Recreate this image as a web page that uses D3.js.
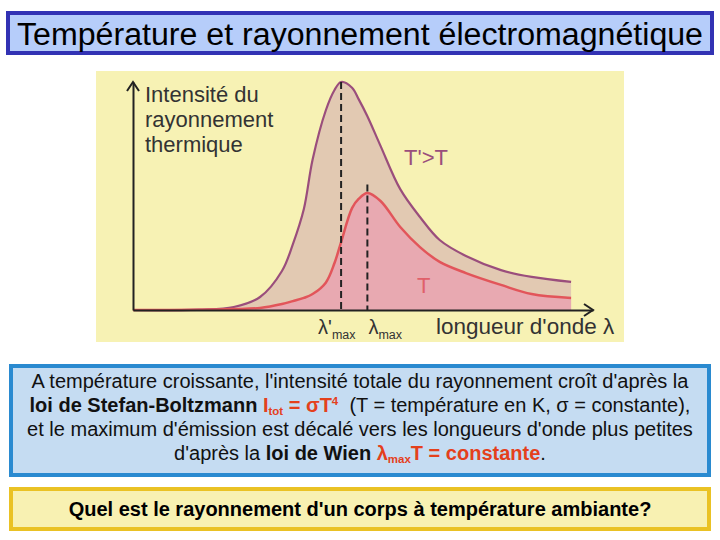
<!DOCTYPE html>
<html>
<head>
<meta charset="utf-8">
<script src="https://cdn.jsdelivr.net/npm/d3@7"></script>
<style>
  body { margin: 0; background: #fff; }
  svg { display: block; font-family: "Liberation Sans", Arial, sans-serif; }
</style>
</head>
<body>
<div id="chart"></div>
<script>
// wavelength samples (arbitrary units) and the two emission curves
const lambda = [0, 1.5, 2.3, 2.9, 3.4, 3.65, 3.9, 4.1, 4.4, 4.6, 4.75, 5.0, 5.15, 5.35, 5.65, 6.1, 6.55, 7.0, 7.6, 8.4, 9.1, 10]
const hotIntensity = [0, 0.02, 0.13, 0.57, 1.71, 2.89, 4.43, 6.6, 8.75, 9.65, 10, 9.75, 9.25, 8.5, 7.2, 5.3, 4.08, 3.07, 2.37, 1.75, 1.45, 1.23]
const coldIntensity = [0, 0.01, 0.04, 0.09, 0.26, 0.39, 0.53, 0.70, 1.2, 2.06, 2.98, 4.47, 4.87, 5.13, 4.78, 3.64, 2.76, 2.11, 1.62, 1.10, 0.70, 0.53]

const peakLambda = [4.75, 5.35]
const peakTop = [10, 5.5]
const peakLabels = ["λ'", "λ"]
const seriesLabels = ["T'>T", "T"]

const title = "Température et rayonnement électromagnétique"
const yTitle = ["Intensité du", "rayonnement", "thermique"]
const xTitle = "longueur d'onde λ"
const question = "Quel est le rayonnement d'un corps à température ambiante?"

const W = 720, H = 540
const RED = "#e4401c"

const svg = d3.select("#chart").append("svg")
    .attr("width", W)
    .attr("height", H)

// title box
svg.append("rect")
    .attr("x", 8).attr("y", 13).attr("width", 704).attr("height", 40)
    .attr("fill", "#b6cdfa").attr("stroke", "#3232b4").attr("stroke-width", 4)
svg.append("text")
    .attr("x", 360).attr("y", 45)
    .attr("text-anchor", "middle")
    .attr("font-size", 31)
    .attr("textLength", 686).attr("lengthAdjust", "spacingAndGlyphs")
    .attr("fill", "#000")
    .text(title)

// chart panel
svg.append("rect")
    .attr("x", 96).attr("y", 71).attr("width", 528).attr("height", 271)
    .attr("fill", "#f7f2b4")

const x = d3.scaleLinear().domain([0, 10.5]).range([133, 593])
const y = d3.scaleLinear().domain([0, 10]).range([310, 82])

const rows = lambda.map((l, i) => ({ l, hot: hotIntensity[i], cold: coldIntensity[i] }))

const curve = d3.curveCatmullRom.alpha(0.5)
const hotArea = d3.area().curve(curve)
    .x(d => x(d.l)).y0(y(0)).y1(d => y(d.hot))
const coldArea = d3.area().curve(curve)
    .x(d => x(d.l)).y0(y(0)).y1(d => y(d.cold))
const hotLine = d3.line().curve(curve)
    .x(d => x(d.l)).y(d => y(d.hot))
const coldLine = d3.line().curve(curve)
    .x(d => x(d.l)).y(d => y(d.cold))

svg.append("path").datum(rows).attr("d", hotArea).attr("fill", "#e2c9b2")
svg.append("path").datum(rows).attr("d", coldArea).attr("fill", "#e8a9b1")
svg.append("path").datum(rows).attr("d", hotLine)
    .attr("fill", "none").attr("stroke", "#9a4e7c").attr("stroke-width", 2.2)
svg.append("path").datum(rows).attr("d", coldLine)
    .attr("fill", "none").attr("stroke", "#e2555a").attr("stroke-width", 2.5)

// dashed markers at the peaks
svg.selectAll(".peak").data(peakLambda).enter()
    .append("line")
    .attr("x1", d => x(d)).attr("x2", d => x(d))
    .attr("y1", (d, i) => y(peakTop[i])).attr("y2", y(0))
    .attr("stroke", "#222").attr("stroke-width", 2)
    .attr("stroke-dasharray", "7,4")

// axes (no ticks, only the lines) plus arrow heads
svg.append("g").attr("transform", `translate(0, ${y(0)})`)
    .call(d3.axisBottom(x).tickValues([]).tickSizeOuter(0))
    .select(".domain").attr("stroke", "#222").attr("stroke-width", 2)
svg.append("g").attr("transform", `translate(${x(0)}, 0)`)
    .call(d3.axisLeft(y).tickValues([]).tickSizeOuter(0))
    .select(".domain").attr("stroke", "#222").attr("stroke-width", 2)

const xEnd = x.range()[1], yEnd = y.range()[1]
svg.append("path")
    .attr("d", `M${xEnd - 9},${y(0) - 6}L${xEnd},${y(0)}L${xEnd - 9},${y(0) + 6}`)
    .attr("fill", "none").attr("stroke", "#222").attr("stroke-width", 2)
svg.append("path")
    .attr("d", `M${x(0) - 6},${yEnd + 9}L${x(0)},${yEnd}L${x(0) + 6},${yEnd + 9}`)
    .attr("fill", "none").attr("stroke", "#222").attr("stroke-width", 2)

// axis titles
svg.append("text")
    .attr("x", 145).attr("y", 102)
    .attr("font-size", 22).attr("fill", "#333")
    .selectAll("tspan").data(yTitle).enter()
    .append("tspan")
    .attr("x", 145).attr("dy", (d, i) => i ? 25 : 0)
    .text(d => d)

svg.append("text")
    .attr("x", 436).attr("y", 334)
    .attr("font-size", 22.5).attr("fill", "#333")
    .text(xTitle)

// lambda max labels
const peakText = svg.selectAll(".plabel").data(peakLambda).enter()
    .append("text")
    .attr("x", (d, i) => x(d) + (i ? 1 : -23))
    .attr("y", 334)
    .attr("font-size", 20).attr("fill", "#333")
peakText.append("tspan").text((d, i) => peakLabels[i])
peakText.append("tspan").attr("dy", 5).attr("font-size", 12.5).text("max")

// series labels
svg.append("text")
    .attr("x", 404).attr("y", 165)
    .attr("font-size", 22).attr("fill", "#9a4e7c")
    .text(seriesLabels[0])
svg.append("text")
    .attr("x", 417).attr("y", 293)
    .attr("font-size", 22).attr("fill", "#e0606a")
    .text(seriesLabels[1])

// explanation box
svg.append("rect")
    .attr("x", 11).attr("y", 366).attr("width", 698).attr("height", 109)
    .attr("fill", "#c5dcf2").attr("stroke", "#2a8ad0").attr("stroke-width", 4)

const lines = [
    [{ t: "A température croissante, l'intensité totale du rayonnement croît d'après la" }],
    [{ t: "loi de Stefan-Boltzmann ", b: 1 }, { t: "I", b: 1, c: RED }, { t: "tot", b: 1, c: RED, sub: 1 },
     { t: " = σT", b: 1, c: RED }, { t: "4", b: 1, c: RED, sup: 1 },
     { t: "  (T = température en K, σ = constante)," }],
    [{ t: "et le maximum d'émission est décalé vers les longueurs d'onde plus petites" }],
    [{ t: "d'après la " }, { t: "loi de Wien ", b: 1 }, { t: "λ", b: 1, c: RED },
     { t: "max", b: 1, c: RED, sub: 1 }, { t: "T = constante", b: 1, c: RED }, { t: "." }]
]

lines.forEach((runs, li) => {
    const t = svg.append("text")
        .attr("x", 360).attr("y", 388 + li * 24)
        .attr("text-anchor", "middle")
        .attr("font-size", 20).attr("fill", "#111")
        .attr("xml:space", "preserve")
    let shift = 0
    runs.forEach(r => {
        const s = t.append("tspan").text(r.t)
        if (r.b) s.attr("font-weight", "bold")
        if (r.c) s.attr("fill", r.c)
        const want = r.sub ? 3 : r.sup ? -7 : 0
        if (want !== shift) { s.attr("dy", want - shift); shift = want }
        if (r.sub || r.sup) s.attr("font-size", 11.5)
    })
})

// question box
svg.append("rect")
    .attr("x", 11).attr("y", 489).attr("width", 698).attr("height", 40)
    .attr("fill", "#f8f1b2").attr("stroke", "#eac224").attr("stroke-width", 4)
svg.append("text")
    .attr("x", 360).attr("y", 516)
    .attr("text-anchor", "middle")
    .attr("font-size", 20).attr("font-weight", "bold").attr("fill", "#000")
    .text(question)
</script>
</body>
</html>
